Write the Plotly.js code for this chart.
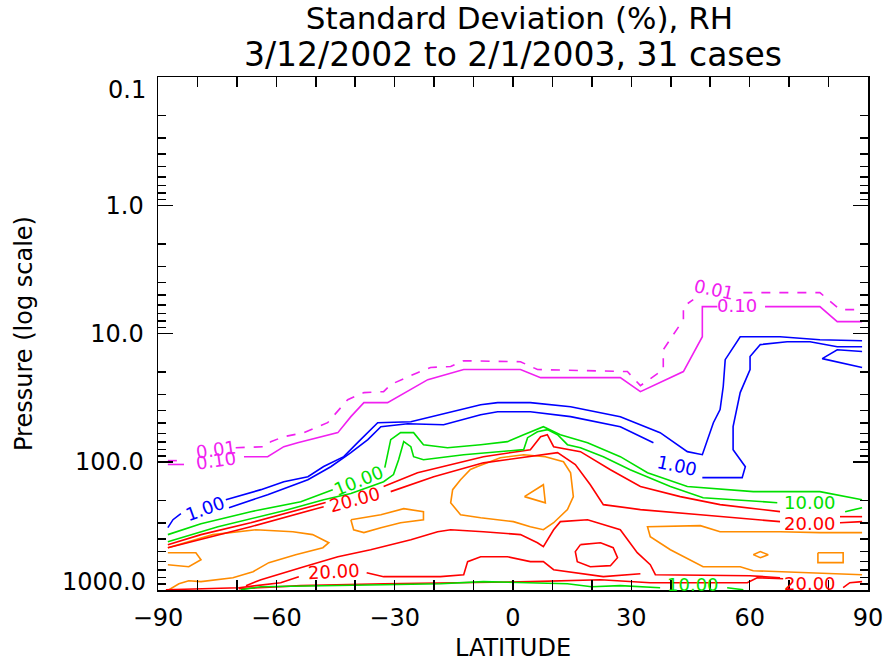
<!DOCTYPE html>
<html><head><meta charset="utf-8">
<script src="https://cdn.plot.ly/plotly-3.0.1.min.js"></script>
<style>html,body{margin:0;padding:0;background:#fff}</style>
</head><body><div id="chart" style="width:888px;height:662px"></div>
<script>
// ---- contour level 0.01 (magenta, dashed) ----
const m001Lat = [-87.5,-83.4,null,-70.3,-62.7,-61.4,-58.1,-53.0,-47.0,-41.9,-37.8,-32.8,-31.0,-24.2,-20.9,-15.8,-12.5,1.9,6.2,29.0,32.3,38.1,38.1,43.2,43.2,45.7,null,58.4,77.8,82.9,88.5];
const m001P   = [98,98,null,77.7,76.3,69.7,63.8,59.3,49.6,32.8,28.9,28.4,25.0,20.2,18.4,18.1,16.3,16.6,19.1,19.8,25.5,19.1,13.4,7.79,6.17,5.44,null,4.8,4.8,6.51,6.51];
// ---- contour level 0.10 (magenta, solid) ----
const m010Lat = [-87.5,-83.4,null,-68.2,-62.2,-58.1,-54.6,-44.4,-41.1,-37.8,-31.8,-21.6,-12.5,1.9,7.0,27.2,32.3,43.2,48.0,48.0,51.8,null,63.9,77.8,82.2,88.5];
const m010P   = [105,105,null,91.3,91.3,76.3,71.0,59.3,44.5,34.6,34.6,22.9,19.1,19.1,22.1,22.1,28.4,19.8,10.6,6.17,6.17,null,6.17,6.17,8.08,8.08];
// ---- contour level 1.00 (blue) ----
const b1Lat = [-87.5,-86.2,-84.2,null,-72.8,-63.9,-58.1,-52.0,-48.0,-42.9,-39.4,-34.3,-25.9,-18.4,-8.2,-3.9,4.4,14.6,27.2,37.3,44.2,48.0,50.8,52.5,53.3,53.8,57.6,67.7,77.8,88.5];
const b1P   = [326.6,283,254,null,197.6,165,143,131,109,91.3,71.0,49.6,48.7,43.0,35.9,34.6,34.6,37.2,44.5,59.3,83.4,88.1,49.6,39.2,25.9,16.0,10.6,10.6,11.2,11.4];
const b2Lat = [-72.0,-62.2,-52.0,-46.2,-41.1,-36.8,-33.5,-26.7,-17.6,-8.2,-3.9,4.4,14.6,27.2,35.6,null,48.0,58.1,58.9,55.8,55.8,57.6,60.1,60.1,62.7,69.5,75.3,82.2,88.5];
const b2P   = [228,180.6,138,109.3,85.0,67.3,53.3,50.5,51.4,43.0,40.7,40.7,44.5,53.3,71.0,null,133,133,109.3,80.5,53.3,28.9,19.1,15.1,12.2,11.6,11.6,12.7,12.7];
const b3Lat = [88.5,82.2,78.4,88.5];
const b3P   = [13.8,13.4,15.7,18.4];
// ---- contour level 10.00 (green) ----
const g1Lat = [-87.5,-79.1,-66.5,-53.8,-45.7,null,-32.5,-31.0,-28.5,-25.2,-22.7,-16.6,-8.2,-1.4,2.7,7.7,12.0,18.9,27.2,34.1,44.2,60.9,77.8,88.5];
const g1P   = [370,304,245,205,165,null,111,67.3,59.3,59.3,73.6,77.7,73.6,69.7,61.5,53.3,61.5,71.0,91.3,121.7,156,171,171,198];
const g2Lat = [-87.5,-74.8,-58.1,-48.0,-41.1,-32.8,-30.3,-29.0,-27.7,-25.9,-25.2,-22.7,-12.5,-3.9,2.7,3.7,6.2,8.7,11.3,13.8,17.1,22.9,29.7,39.9,48.2,67.0,null,84.2,88.5];
const g2P   = [420,321,241,198,177,143,126,96.4,69.7,76.3,91.3,96.4,88.1,83.4,80.5,64.9,58.3,56.2,61.5,73.6,77.7,91.3,115.4,156,191,208.5,null,245,228];
const g3Lat = [-69.0,-63.9,-32.8,-18.4,-7.5,13.8,19.9,27.2,37.3,null,54.3,58.4];
const g3P   = [995,943,910,893,861,893,943,925,960,null,960,995];
// ---- contour level 20.00 (red) ----
const r1Lat = [-87.5,-79.1,-66.5,-53.8,-47.5,null,-32.8,-24.2,-7.5,4.4,7.0,8.7,10.3,17.1,24.7,32.3,42.4,52.5,67.7,null,82.9,88.5];
const r1P   = [443,370,299,236,208,null,156,122,91.3,80.5,63.8,61.5,76.3,83.4,115.4,156,187,216,245,null,268,268];
const r2Lat = [-87.5,-66.5,-48.0,null,-31.0,-20.1,-7.5,4.4,11.3,15.8,19.6,22.9,32.3,47.5,67.7,null,82.9,88.5];
const r2P   = [468,321,224,null,171,131,102,91.3,85.0,105,151,216,236,259,293,null,299,293];
const r3Lat = [-67.7,-63.9,-53.0,-44.4,-36.1,-25.9,-19.1,-15.8,-7.5,1.9,6.2,7.7,10.3,12.0,18.9,27.2,31.5,34.8,36.1,60.1,67.7];
const r3P   = [925,831,658,550,485,405,351,339,351,370,428,459,339,293,283,339,512,635,760,774,802];
const r4Lat = [-88.0,-69.5,-58.9,-54.3,null,-37.1,-32.8,-18.4,-12.5,-11.5,-8.2,-1.4,4.4,7.7,10.3,22.9,32.3];
const r4P   = [995,960,877,787,null,733,787,787,760,601,550,550,601,601,695,787,747];
const r5Lat = [-69.5,-53.8,-32.8,4.4,22.2,34.8,59.4,61.9,68.5,null,83.7,85.4,88.5];
const r5P   = [977,925,893,861,831,877,877,802,817,null,960,877,861];
const r6Lat = [17.1,22.2,25.4,26.5,24.7,19.6,16.3,15.8,17.1];
const r6P   = [443,428,468,560,646,658,601,502,443];
// ---- unlabelled orange contours ----
const o1Lat = [-9.0,-3.2,2.7,8.2,12.8,14.6,15.3,13.8,10.3,7.7,4.4,0.1,-8.2,-13.3,-15.8,-15.3,-13.3,-10.8,-9.0];
const o1P   = [109,93.0,88.1,91.3,100,122,187,236,299,339,321,293,273,259,209,165,138,115,109];
const o2Lat = [2.9,7.7,8.2,2.9];
const o2P   = [187,151,209,187];
const o3Lat = [-41.1,-33.5,-27.7,-22.7,-22.7,-28.5,-33.5,-37.8,-40.4,-41.1];
const o3P   = [283,259,232,245,283,299,327,357,339,283];
const o4Lat = [-87.5,-76.1,-65.2,-55.8,-50.8,-46.7,-48.2,-55.1,-61.9,-65.9,-71.0,-79.1,-82.2,-84.7,-87.2];
const o4P   = [468,370,339,351,370,428,468,531,612,720,802,861,846,893,995];
const o5Lat = [-87.5,-80.4,-79.1,-82.2,-87.5];
const o5P   = [512,512,580,658,635];
const o6Lat = [88.5,77.8,67.7,52.5,47.5,34.1,34.8,39.9,48.2,57.6,60.9,72.8,88.5];
const o6P   = [357,357,351,351,315,321,384,485,658,658,707,733,760];
const o7Lat = [60.9,62.7,64.7,62.7,60.9];
const o7P   = [530,502,530,560,530];
const o8Lat = [77.3,83.7,83.7,77.3,77.3];
const o8P   = [512,512,612,612,512];
// ---- contour labels ----
const labelText  = ['0.01','0.10','0.01','0.10','1.00','1.00','10.00','10.00','10.00','20.00','20.00','20.00','20.00'];
const labelLat   = [-75.3,-75.3,51.0,56.8,-78.1,41.6,-39.1,75.3,45.7,-40.1,75.3,-45.4,75.3];
const labelP     = [80.5,98,4.55,6.05,232,107,141,208.5,910,198,304,720,893];
const labelAngle = [-8,-8,12,0,-20,12,-22,0,0,-15,0,-3,0];
const labelColor = ['#f020f0','#f020f0','#f020f0','#f020f0','#0000ff','#0000ff','#00e000','#00e000','#00e000','#ff0000','#ff0000','#ff0000','#ff0000'];
// ---- axis ticks ----
const latTicks = [-90,-60,-30,0,30,60,90];
const latMinor = [-80,-70,-50,-40,-20,-10,10,20,40,50,70,80];
const pTicks = [0.1,1,10,100,1000];
const pTickText = ['0.1','1.0','10.0','100.0','1000.0'];
const pMinor = [0.2,0.3,0.4,0.5,0.6,0.7,0.8,0.9,2,3,4,5,6,7,8,9,20,30,40,50,60,70,80,90,200,300,400,500,600,700,800,900];
// end labels of the pressure axis sit a little inside the frame, as in the original
const pEdgeShift = {0.1:-13, 1000:8};

function join(parts){
  const x=[], y=[];
  parts.forEach((p,i)=>{ if(i>0){x.push(null);y.push(null);} x.push(...p[0]); y.push(...p[1]); });
  return {x,y};
}
function tr(parts,color,dash){
  const d=join(parts);
  return {type:'scatter',mode:'lines',x:d.x,y:d.y,connectgaps:false,hoverinfo:'skip',showlegend:false,
    line:{color:color,width:1.6,dash:dash||'solid'}};
}
const data = [
  tr([[o1Lat,o1P],[o2Lat,o2P],[o3Lat,o3P],[o4Lat,o4P],[o5Lat,o5P],[o6Lat,o6P],[o7Lat,o7P],[o8Lat,o8P]],'#ff8c00'),
  tr([[r1Lat,r1P],[r2Lat,r2P],[r3Lat,r3P],[r4Lat,r4P],[r5Lat,r5P],[r6Lat,r6P]],'#ff0000'),
  tr([[g1Lat,g1P],[g2Lat,g2P],[g3Lat,g3P]],'#00e000'),
  tr([[b1Lat,b1P],[b2Lat,b2P],[b3Lat,b3P]],'#0000ff'),
  tr([[m010Lat,m010P]],'#f020f0'),
  tr([[m001Lat,m001P]],'#f020f0','dash')
];
const FONT = 'DejaVu Sans, Liberation Sans, sans-serif';
const annotations = labelText.map((t,i)=>({
  x: labelLat[i], y: Math.log10(labelP[i]), xref:'x', yref:'y', text:t, showarrow:false,
  textangle: labelAngle[i], font:{family:FONT,size:18,color:labelColor[i]}
}));
// axis tick labels: middle ones by the axis itself, the two end ones nudged inward
const shownTickText = pTicks.map((v,i)=> (v in pEdgeShift) ? '' : pTickText[i]);
pTicks.forEach((v,i)=>{
  if(v in pEdgeShift){
    annotations.push({xref:'paper',yref:'y',x:0,y:Math.log10(v),xanchor:'right',yanchor:'middle',xshift:-10,yshift:pEdgeShift[v],
      showarrow:false,text:pTickText[i],font:{family:FONT,size:24,color:'#000'}});
  }
});
annotations.push({xref:'paper',yref:'paper',x:0.5,y:1.0429,xanchor:'center',yanchor:'middle',showarrow:false,
  text:'3/12/2002 to 2/1/2003, 31 cases',font:{family:FONT,size:33,color:'#000'}});
const layout = {
  width:888,height:662,paper_bgcolor:'#fff',plot_bgcolor:'#fff',
  margin:{l:158,r:20,t:77,b:72},
  font:{family:FONT,color:'#000'},
  title:{text:'Standard Deviation (%), RH',font:{family:FONT,size:31,color:'#000'},x:0.585,xanchor:'center',y:0.9728,yanchor:'middle',xref:'container',yref:'container'},
  xaxis:{range:[-90,90],tickmode:'array',tickvals:latTicks,ticks:'inside',ticklen:10,tickwidth:1.5,tickcolor:'#000',
    showline:true,linecolor:'#000',linewidth:1.5,mirror:'ticks',showgrid:false,zeroline:false,
    minor:{tickmode:'array',tickvals:latMinor,ticks:'inside',ticklen:10,tickwidth:1.5,tickcolor:'#000',showgrid:false},
    tickfont:{family:FONT,size:24,color:'#000'},ticklabelstandoff:6,
    title:{text:'LATITUDE',font:{family:FONT,size:24,color:'#000'},standoff:10}},
  yaxis:{type:'log',range:[3,-1],tickmode:'array',tickvals:pTicks,ticktext:shownTickText,ticks:'inside',ticklen:15,tickwidth:1.5,tickcolor:'#000',
    showline:true,linecolor:'#000',linewidth:1.5,mirror:'ticks',showgrid:false,zeroline:false,
    minor:{tickmode:'array',tickvals:pMinor,ticks:'inside',ticklen:8,tickwidth:1.5,tickcolor:'#000',showgrid:false},
    tickfont:{family:FONT,size:24,color:'#000'},ticklabelstandoff:8,
    title:{text:'Pressure (log scale)',font:{family:FONT,size:24,color:'#000'},standoff:35}},
  annotations:annotations
};
Plotly.newPlot('chart',data,layout,{displayModeBar:false,staticPlot:true});
</script></body></html>
